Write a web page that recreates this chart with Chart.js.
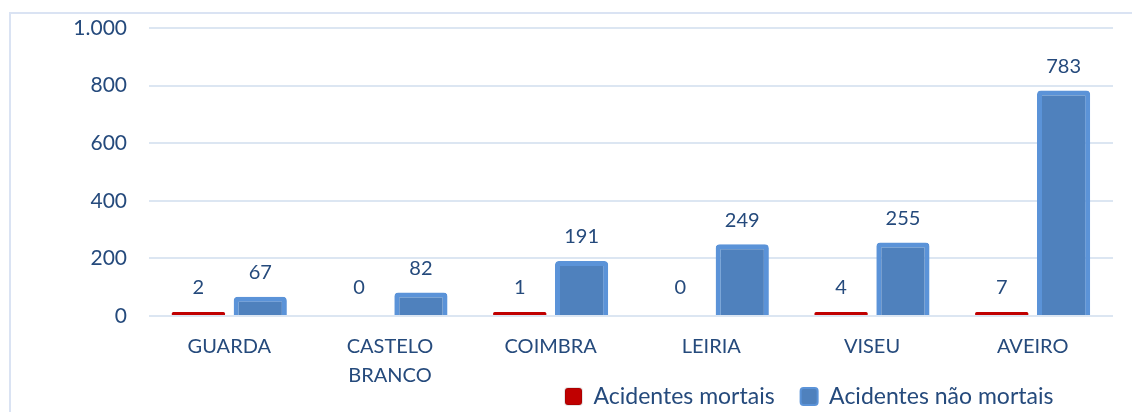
<!DOCTYPE html>
<html>
<head>
<meta charset="utf-8">
<script src="https://cdn.jsdelivr.net/npm/chart.js@4/dist/chart.umd.min.js"></script>
<style>
  html, body { margin: 0; padding: 0; background: #fff; }
  #wrap { position: relative; width: 1132px; height: 412px; overflow: hidden; }
  #frame { position: absolute; left: 9px; top: 12px; width: 1200px; height: 500px;
           border-left: 2px solid #dae3f3; border-top: 2px solid #dae3f3; }
  #c { position: absolute; left: 0; top: 0; }
</style>
</head>
<body>
<div id="wrap">
  <div id="frame"></div>
  <canvas id="c" width="1132" height="412"></canvas>
</div>
<script>
// distritos
var categorias = ['GUARDA', ['CASTELO', 'BRANCO'], 'COIMBRA', 'LEIRIA', 'VISEU', 'AVEIRO'];
var mortais = [2, 0, 1, 0, 4, 7];
var naoMortais = [67, 82, 191, 249, 255, 783];
var yTicks = [0, 200, 400, 600, 800, 1000];

var navy = '#254a7c';
var fonte = 'Lato';

// numbers over each bar
var valueLabels = {
	id: 'valueLabels',
	afterDatasetsDraw: function(chart) {
		var ctx = chart.ctx;
		ctx.save();
		ctx.font = '20px ' + fonte;
		ctx.fillStyle = navy;
		ctx.textAlign = 'center';
		ctx.textBaseline = 'middle';
		chart.data.datasets.forEach(function(ds, i) {
			var meta = chart.getDatasetMeta(i);
			meta.data.forEach(function(bar, j) {
				ctx.fillText(String(ds.data[j]), bar.x, bar.y - 24);
			});
		});
		ctx.restore();
	}
};

// move legend to where it sits in the original
var legendPos = {
	id: 'legendPos',
	beforeDraw: function(chart) {
		var lg = chart.legend;
		var pad = lg.options.labels.padding;
		var h = lg.height;
		lg.left = 565 - pad;
		lg.right = 2000;
		lg.top = 397 - pad - 12;
		lg.bottom = lg.top + h;
	}
};

var ctx = document.getElementById('c').getContext('2d');
var chart = new Chart(ctx, {
	type: 'bar',
	data: {
		labels: categorias,
		datasets: [
			{
				label: 'Acidentes mortais',
				data: mortais,
				backgroundColor: function(c) { return c.raw === 0 ? 'rgba(0,0,0,0)' : '#c00000'; },
				borderRadius: 3,
				minBarLength: 4,
				categoryPercentage: 0.77,
				barPercentage: 0.86
			},
			{
				label: 'Acidentes n\u00e3o mortais',
				data: naoMortais,
				backgroundColor: '#4f81bd',
				borderColor: '#5b93d8',
				borderWidth: 5,
				borderRadius: 4,
				categoryPercentage: 0.77,
				barPercentage: 0.86
			}
		]
	},
	options: {
		responsive: false,
		animation: false,
		layout: { padding: { top: 28, right: 19, left: 0, bottom: -59 } },
		plugins: {
			tooltip: { enabled: false },
			legend: {
				position: 'bottom',
				align: 'start',
				labels: {
					color: navy,
					font: { family: fonte, size: 23 },
					boxWidth: 17,
					boxHeight: 17,
					padding: 26,
					useBorderRadius: true,
					borderRadius: 3,
					generateLabels: function(ch) {
						var items = Chart.defaults.plugins.legend.labels.generateLabels(ch);
						items.forEach(function(it) { it.lineWidth = 2; });
						return items;
					}
				}
			}
		},
		scales: {
			x: {
				grid: { display: false, drawTicks: false },
				border: { display: false },
				ticks: {
					color: navy,
					font: { family: fonte, size: 20, lineHeight: 1.45 },
					padding: 16,
					maxRotation: 0,
					autoSkip: false
				},
				afterFit: function(scale) {
					scale.height = 96;
				}
			},
			y: {
				min: 0,
				max: 1000,
				afterBuildTicks: function(scale) {
					scale.ticks = yTicks.map(function(v) { return { value: v }; });
				},
				grid: { color: '#dce6f2', lineWidth: 2, drawTicks: true, tickLength: 18, tickColor: 'rgba(0,0,0,0)' },
				border: { display: false },
				ticks: {
					color: navy,
					font: { family: fonte, size: 21 },
					padding: 4,
					callback: function(v) { return String(v).replace(/\B(?=(\d{3})+(?!\d))/g, '.'); }
				},
				afterFit: function(scale) { scale.width = 149; }
			}
		}
	},
	plugins: [valueLabels, legendPos]
});
</script>
</body>
</html>
